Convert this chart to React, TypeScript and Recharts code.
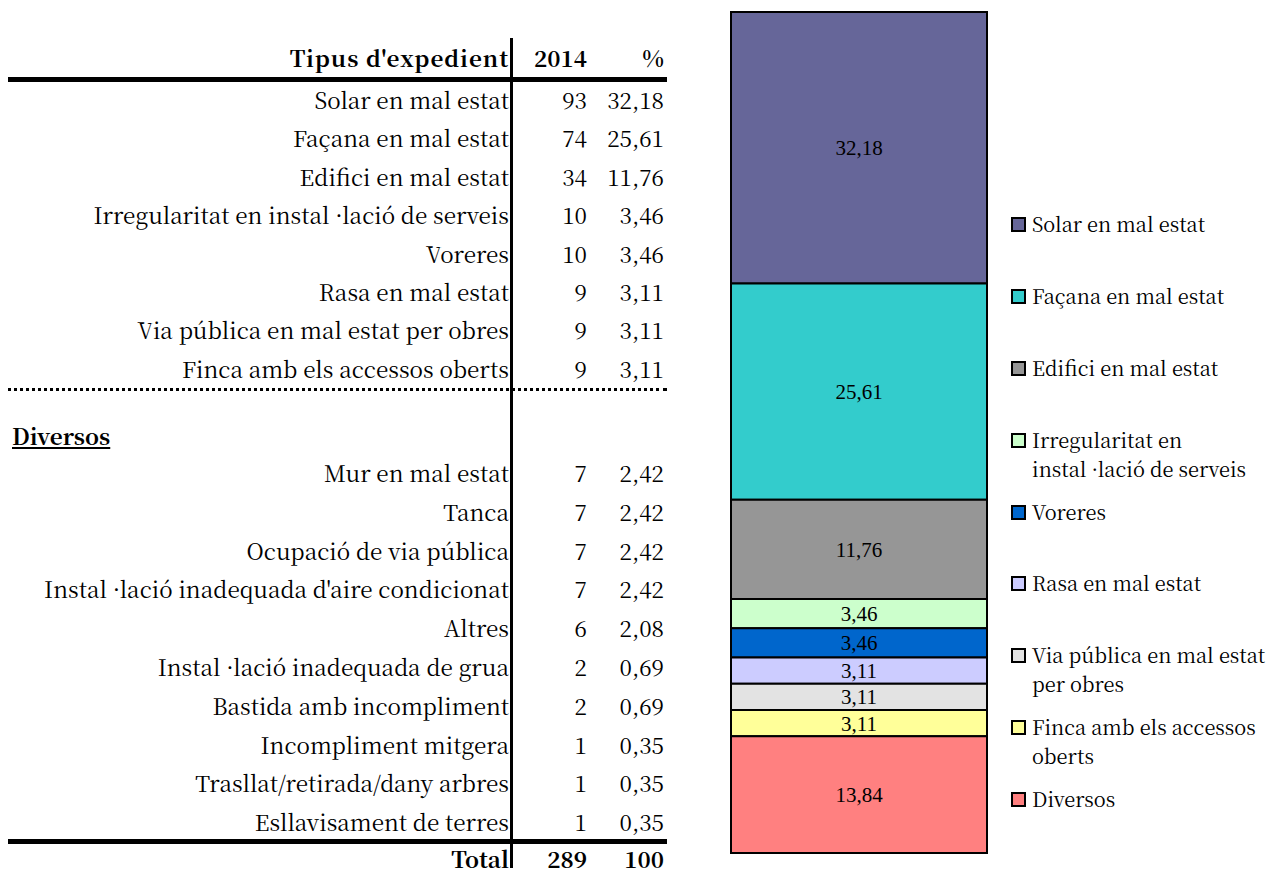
import React from 'react';
import { BarChart, Bar, XAxis, YAxis, LabelList } from 'recharts';

// main categories (table + stacked bar)
const TYPES = [
  'Solar en mal estat',
  'Façana en mal estat',
  'Edifici en mal estat',
  'Irregularitat en instal ·lació de serveis',
  'Voreres',
  'Rasa en mal estat',
  'Via pública en mal estat per obres',
  'Finca amb els accessos oberts',
];
const TYPE_COUNTS = [93, 74, 34, 10, 10, 9, 9, 9];
const TYPE_PCT = [32.18, 25.61, 11.76, 3.46, 3.46, 3.11, 3.11, 3.11];

// "Diversos" group
const DIV_TYPES = [
  'Mur en mal estat',
  'Tanca',
  'Ocupació de via pública',
  "Instal ·lació inadequada d'aire condicionat",
  'Altres',
  'Instal ·lació inadequada de grua',
  'Bastida amb incompliment',
  'Incompliment mitgera',
  'Trasllat/retirada/dany arbres',
  'Esllavisament de terres',
];
const DIV_COUNTS = [7, 7, 7, 7, 6, 2, 2, 1, 1, 1];
const DIV_PCT = [2.42, 2.42, 2.42, 2.42, 2.08, 0.69, 0.69, 0.35, 0.35, 0.35];

const TOTAL_COUNT = 289;
const TOTAL_PCT = 100;

// stacked bar series
const SERIES_NAMES = [...TYPES, 'Diversos'];
const SERIES_LEGEND = [
  'Solar en mal estat',
  'Façana en mal estat',
  'Edifici en mal estat',
  'Irregularitat en\ninstal ·lació de serveis',
  'Voreres',
  'Rasa en mal estat',
  'Via pública en mal estat\nper obres',
  'Finca amb els accessos\noberts',
  'Diversos',
];
const SERIES_VALUES = [...TYPE_PCT, 13.84];
const COLORS = ['#666699', '#33CCCC', '#969696', '#CCFFCC', '#0066CC', '#CCCCFF', '#E3E3E3', '#FFFF99', '#FF8080'];

const FONT = '"Noto Serif CJK SC", "EB Garamond", "Liberation Serif", serif';
const LABEL_FONT = '"Liberation Serif", serif';
const fmt = (v: number) => v.toFixed(2).replace('.', ',');

const barData = [
  SERIES_VALUES.reduce((acc: Record<string, number | string>, v, i) => {
    acc[`s${i}`] = v;
    return acc;
  }, { name: '2014' }),
];

function Row({ label, count, pct, h, bold, spacing }: { label: string; count: number | string; pct: number | string; h: number; bold?: boolean; spacing?: number }) {
  return (
    <div style={{ display: 'flex', height: h, lineHeight: `${h}px`, fontWeight: bold ? 'bold' : 'normal' }}>
      <div style={{ width: 509, textAlign: 'right', whiteSpace: 'nowrap', letterSpacing: spacing || 0 }}>{label}</div>
      <div style={{ width: 78, textAlign: 'right' }}>{count}</div>
      <div style={{ width: 77, textAlign: 'right' }}>{pct}</div>
    </div>
  );
}

function Table() {
  return (
    <div style={{ position: 'absolute', left: 0, top: 0, width: 700, height: 876, fontFamily: FONT, fontSize: 22.5, color: '#000' }}>
      <div style={{ position: 'absolute', top: 38, left: 0 }}>
        <Row label="Tipus d'expedient" count="2014" pct="%" h={38} bold spacing={1} />
      </div>
      <div style={{ position: 'absolute', left: 7, top: 77, width: 660, height: 5, background: '#000' }} />
      <div style={{ position: 'absolute', top: 80, left: 0 }}>
        {TYPES.map((t, i) => (
          <Row key={t} label={t} count={TYPE_COUNTS[i]} pct={fmt(TYPE_PCT[i])} h={38.4} />
        ))}
      </div>
      <div style={{ position: 'absolute', left: 7, top: 388, width: 660, borderTop: '3px dotted #000' }} />
      <div style={{ position: 'absolute', left: 12, top: 418, fontWeight: 'bold', textDecoration: 'underline', lineHeight: '34px' }}>Diversos</div>
      <div style={{ position: 'absolute', top: 453, left: 0 }}>
        {DIV_TYPES.map((t, i) => (
          <Row key={t} label={t} count={DIV_COUNTS[i]} pct={fmt(DIV_PCT[i])} h={38.8} />
        ))}
      </div>
      <div style={{ position: 'absolute', left: 7, top: 839, width: 660, height: 5, background: '#000' }} />
      <div style={{ position: 'absolute', top: 840, left: 0 }}>
        <Row label="Total" count={TOTAL_COUNT} pct={TOTAL_PCT} h={36} bold />
      </div>
      <div style={{ position: 'absolute', left: 510, top: 38, width: 3, height: 838, background: '#000' }} />
    </div>
  );
}

function LegendBox() {
  return (
    <div style={{ position: 'absolute', left: 1011, top: 217, fontFamily: FONT, fontSize: 20, color: '#000' }}>
      {SERIES_LEGEND.map((name, i) => (
        <div key={name} style={{ height: 71.9, display: 'flex', alignItems: 'flex-start' }}>
          <div style={{ width: 11, height: 11, border: '2px solid #000', background: COLORS[i], flexShrink: 0 }} />
          <div style={{ marginLeft: 6, lineHeight: '29px', whiteSpace: 'pre', marginTop: -8 }}>{name}</div>
        </div>
      ))}
    </div>
  );
}

export default function App() {
  return (
    <div style={{ position: 'relative', width: 1282, height: 876, margin: -8, background: '#fff', overflow: 'hidden' }}>
      <Table />
      <div style={{ position: 'absolute', left: 730, top: 11 }}>
        <BarChart width={258} height={843} data={barData} margin={{ top: 1, right: 1, bottom: 1, left: 1 }} barCategoryGap={0}>
          <XAxis dataKey="name" hide />
          <YAxis hide reversed domain={[0, 'dataMax']} />
          {SERIES_NAMES.map((name, i) => (
            <Bar key={name} name={name} dataKey={`s${i}`} stackId="a" fill={COLORS[i]} stroke="#000" strokeWidth={2} isAnimationActive={false}>
              <LabelList dataKey={`s${i}`} position="center" formatter={(v: number) => fmt(v)} fill="#000" fontSize={21} fontFamily={LABEL_FONT} />
            </Bar>
          ))}
        </BarChart>
      </div>
      <LegendBox />
    </div>
  );
}
